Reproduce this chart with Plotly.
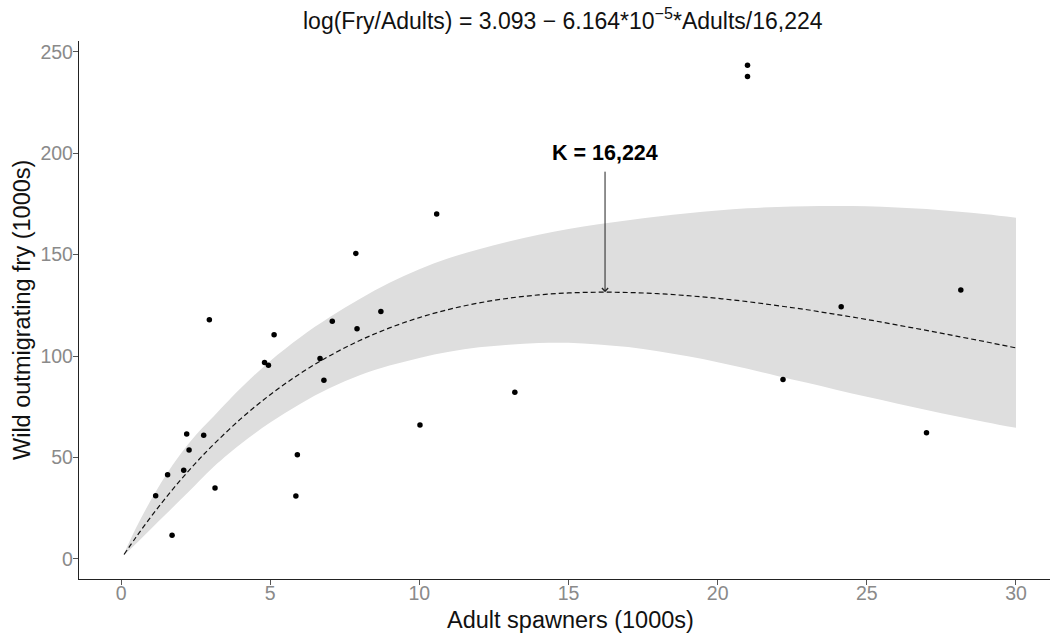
import plotly.graph_objects as go

# Observed brood years: adult spawners vs wild outmigrating fry (both in 1000s)
adults = [1.16, 1.56, 1.71, 2.10, 2.20, 2.28, 2.77, 2.96, 3.15, 4.81, 4.94, 5.13,
          5.86, 5.91, 6.67, 6.80, 7.08, 7.87, 7.91, 8.71, 10.02, 10.58, 13.20,
          21.0, 21.0, 22.19, 24.14, 27.0, 28.15]
fry = [31.1, 41.5, 11.7, 43.7, 61.6, 53.7, 60.9, 117.9, 34.9, 96.8, 95.5, 110.5,
       31.0, 51.4, 98.8, 88.1, 117.2, 150.6, 113.5, 122.0, 66.0, 170.0, 82.2,
       243.3, 237.8, 88.5, 124.3, 62.2, 132.5]

# Fitted Ricker curve and its confidence band
fit_x = [0.1, 0.5, 1, 1.5, 2, 2.5, 3, 4, 5, 6, 7, 8, 9, 10, 11, 12, 13, 14, 15,
         16, 17, 18, 19, 20, 21, 22, 23, 24, 25, 26, 27, 28, 29, 30]
fit_y = [2.19, 10.69, 20.72, 30.14, 38.97, 47.23, 54.95, 68.89, 80.96, 91.34,
         100.19, 107.66, 113.87, 118.96, 123.03, 126.19, 128.53, 130.14, 131.10,
         131.47, 131.33, 130.74, 129.76, 128.43, 126.82, 124.87, 122.83, 120.43,
         118.03, 115.34, 112.65, 109.81, 106.99, 104.0]
fit_lo = [1.8, 7.5, 14.8, 22.0, 29.3, 36.6, 44.0, 56.5, 67.2, 76.4, 84.2, 90.5,
          95.3, 99.1, 102.1, 104.3, 105.6, 106.4, 106.5, 105.7, 104.4, 102.4,
          99.9, 97.0, 93.7, 90.2, 86.8, 83.3, 79.9, 76.6, 73.4, 70.3, 67.4, 64.6]
fit_hi = [2.6, 15.2, 29.0, 41.3, 51.8, 60.9, 68.7, 84.0, 97.6, 109.2, 119.2,
          128.1, 136.1, 142.8, 148.3, 152.7, 156.5, 159.8, 162.6, 165.0, 167.0,
          168.8, 170.4, 171.7, 172.8, 173.5, 173.9, 174.0, 173.8, 173.2, 172.5,
          171.3, 169.9, 168.2]

K_ADULTS = 16.224   # spawners at maximum fry production (1000s)
K_FRY = 131.5       # fitted fry at K (1000s)
K_LABEL_Y = 200

FONT = "Liberation Sans, Arial, sans-serif"

fig = go.Figure()

fig.add_trace(go.Scatter(x=fit_x, y=fit_lo, mode="lines", line=dict(width=0, shape="spline"),
                         hoverinfo="skip", showlegend=False))
fig.add_trace(go.Scatter(x=fit_x, y=fit_hi, mode="lines", line=dict(width=0, shape="spline"),
                         fill="tonexty", fillcolor="#dedede", hoverinfo="skip",
                         showlegend=False))
fig.add_trace(go.Scatter(x=fit_x, y=fit_y, mode="lines",
                         line=dict(color="#111111", width=1.2, dash="5px,3px", shape="spline"),
                         showlegend=False))
fig.add_trace(go.Scatter(x=adults, y=fry, mode="markers",
                         marker=dict(color="#000000", size=5.5), showlegend=False))

annotations = [
    dict(text="log(Fry/Adults) = 3.093 \u2212 6.164*10<sup>\u22125</sup>*Adults/16,224",
         xref="paper", yref="paper", x=0.4985, y=1.041, xanchor="center", yanchor="middle",
         showarrow=False, font=dict(family=FONT, size=23, color="#111111")),
    dict(text="Adult spawners (1000s)", xref="paper", yref="paper", x=0.506, y=-0.076,
         xanchor="center", yanchor="middle", showarrow=False,
         font=dict(family=FONT, size=23.5, color="#111111")),
    dict(text="Wild outmigrating fry (1000s)", xref="paper", yref="paper", x=-0.0587, y=0.5,
         xanchor="center", yanchor="middle", textangle=-90, showarrow=False,
         font=dict(family=FONT, size=23.5, color="#111111")),
    # K label with an arrow pointing down to the fitted curve at K
    dict(text="<b>K = 16,224</b>", xref="x", yref="y", x=K_ADULTS, y=K_FRY,
         axref="x", ayref="y", ax=K_ADULTS, ay=K_LABEL_Y, showarrow=True,
         arrowhead=4, arrowsize=1.2, arrowwidth=1, arrowcolor="#222222",
         standoff=0, startstandoff=5,
         font=dict(family=FONT, size=21.5, color="#000000")),
]

fig.update_layout(
    width=1050, height=634,
    margin=dict(l=79, r=0, t=41, b=55),
    paper_bgcolor="white", plot_bgcolor="white",
    font=dict(family=FONT),
    annotations=annotations,
    showlegend=False,
)
fig.update_xaxes(range=[-1.41, 31.14], tickvals=[0, 5, 10, 15, 20, 25, 30],
                 showgrid=False, zeroline=False, showline=True, linecolor="#222222",
                 linewidth=1.3, ticks="outside", ticklen=5, tickcolor="#555555",
                 ticklabelstandoff=-9,
                 tickfont=dict(family=FONT, size=19.5, color="#8a8a8a"))
fig.update_yaxes(range=[-9.9, 255.3], tickvals=[0, 50, 100, 150, 200, 250],
                 showgrid=False, zeroline=False, showline=True, linecolor="#222222",
                 linewidth=1.3, ticks="outside", ticklen=5, tickcolor="#555555",
                 ticklabelstandoff=-4,
                 tickfont=dict(family=FONT, size=19.5, color="#8a8a8a"))

fig.write_html("out.html")
